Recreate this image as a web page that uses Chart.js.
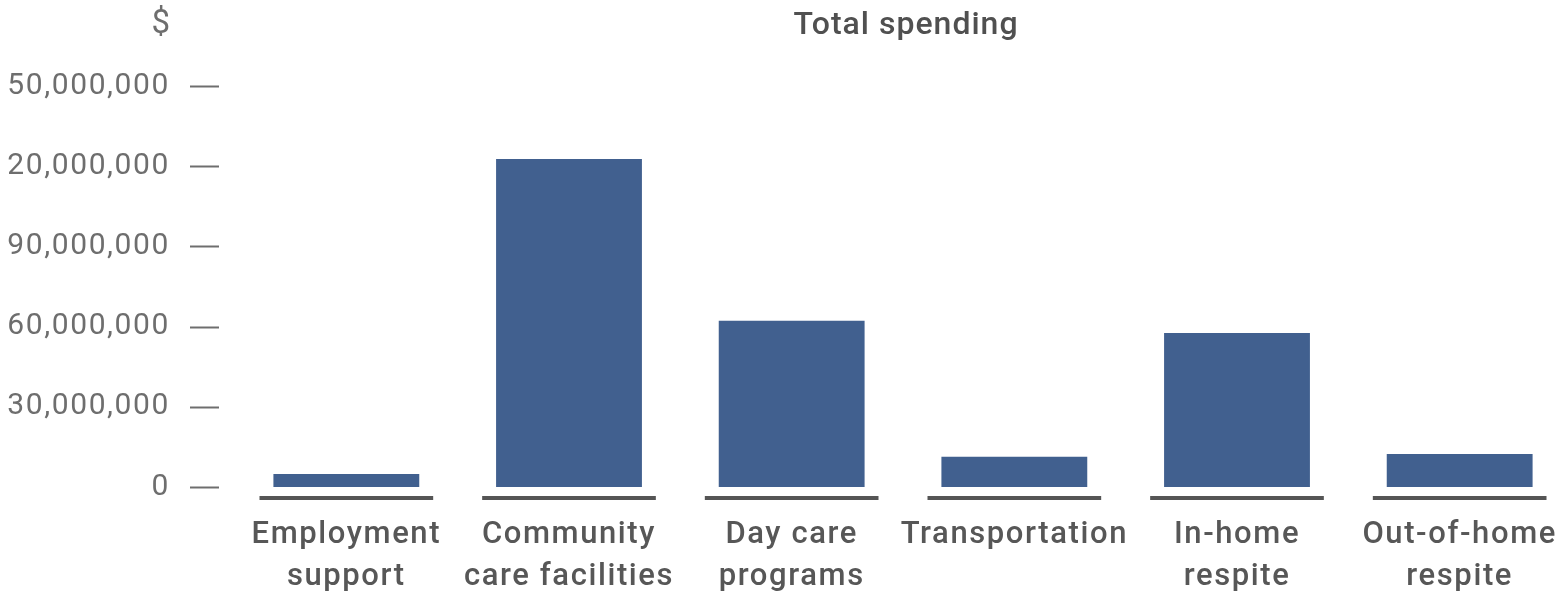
<!DOCTYPE html>
<html>
<head>
<meta charset="utf-8">
<script src="https://cdn.jsdelivr.net/npm/chart.js@4/dist/chart.umd.min.js"></script>
<style>
  html, body { margin: 0; padding: 0; background: #fff; overflow: hidden; }
  #wrap { width: 1571px; height: 592px; }
</style>
</head>
<body>
<div id="wrap"><canvas id="spending" width="1571" height="592"></canvas></div>
<script>
const categories = [
  ['Employment', 'support'],
  ['Community', 'care facilities'],
  ['Day care', 'programs'],
  ['Transportation'],
  ['In-home', 'respite'],
  ['Out-of-home', 'respite']
];
const spending = [4900000, 122700000, 62200000, 11300000, 57600000, 12300000];
const yTickValues = [0, 30000000, 60000000, 90000000, 120000000, 150000000];
const yTickLabels = ['0', '30,000,000', '60,000,000', '90,000,000', '20,000,000', '50,000,000'];
const chartTitle = 'Total spending';
const unitLabel = '$';

const FONT = 'Roboto, "Noto Sans", sans-serif';

// slightly tracked-out lettering for all canvas text
const tracking = {
  id: 'tracking',
  beforeDraw(chart) {
    chart.ctx.letterSpacing = '1.6px';
  }
};

// baseline strips under each category, tick dashes, unit and title
const decor = {
  id: 'decor',
  afterDraw(chart) {
    const { ctx, chartArea, scales: { x, y } } = chart;
    ctx.save();

    const half = x.width / categories.length * 0.39;
    const by = y.getPixelForValue(0) + 11;
    ctx.strokeStyle = '#555555';
    ctx.lineWidth = 4;
    categories.forEach((c, i) => {
      const cx = x.getPixelForValue(i);
      ctx.beginPath();
      ctx.moveTo(cx - half, by);
      ctx.lineTo(cx + half, by);
      ctx.stroke();
    });

    ctx.strokeStyle = '#6e6e6e';
    ctx.lineWidth = 2;
    y.ticks.forEach((t, i) => {
      const py = Math.round(y.getPixelForTick(i)) + 0.5;
      ctx.beginPath();
      ctx.moveTo(chartArea.left - 45, py);
      ctx.lineTo(chartArea.left - 16, py);
      ctx.stroke();
    });

    ctx.textBaseline = 'middle';
    ctx.fillStyle = '#6e6e6e';
    ctx.textAlign = 'right';
    ctx.letterSpacing = '0px';
    ctx.font = '33px ' + FONT;
    ctx.fillText(unitLabel, chartArea.left - 65, 25);

    ctx.fillStyle = '#505050';
    ctx.textAlign = 'center';
    ctx.letterSpacing = '1px';
    ctx.font = '500 32px ' + FONT;
    ctx.fillText(chartTitle, (chartArea.left + chartArea.right) / 2 + 3, 26);
    ctx.restore();
  }
};

new Chart(document.getElementById('spending'), {
  type: 'bar',
  data: {
    labels: categories,
    datasets: [{
      label: chartTitle,
      data: spending,
      backgroundColor: '#41608f',
      borderWidth: 0,
      categoryPercentage: 1,
      barPercentage: 0.655
    }]
  },
  options: {
    responsive: false,
    animation: false,
    layout: { padding: { top: 86, right: 0, left: 0, bottom: 0 } },
    plugins: {
      legend: { display: false },
      tooltip: { enabled: false },
      title: { display: false }
    },
    scales: {
      x: {
        grid: { display: false, drawTicks: false },
        border: { display: false },
        ticks: {
          color: '#575757',
          font: { family: FONT, size: 31, weight: 500, lineHeight: 1.36 },
          padding: 27,
          maxRotation: 0,
          autoSkip: false
        },
        afterFit(scale) {
          scale.height = 105;
          scale.paddingLeft = 0;
          scale.paddingRight = 0;
        }
      },
      y: {
        min: 0,
        max: 150000000,
        afterBuildTicks(scale) {
          scale.ticks = yTickValues.map(v => ({ value: v }));
        },
        grid: { display: false, drawTicks: false },
        border: { display: false },
        ticks: {
          color: '#6e6e6e',
          font: { family: FONT, size: 30 },
          padding: 65,
          callback: (value, i) => yTickLabels[i]
        },
        afterFit(scale) { scale.width = 235; }
      }
    }
  },
  plugins: [tracking, decor]
});
</script>
</body>
</html>
